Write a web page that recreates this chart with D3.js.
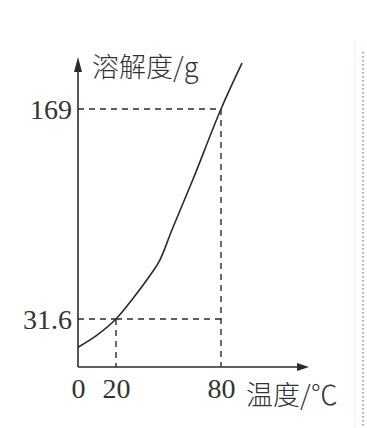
<!DOCTYPE html>
<html><head><meta charset="utf-8">
<script src="https://cdn.jsdelivr.net/npm/d3@7"></script>
<style>
html,body{margin:0;padding:0;background:#fff;}
svg{display:block;}
</style></head>
<body>
<script>
// Data (temperature °C, solubility g)
const temps = [0, 10, 20, 30, 40, 45, 52, 64, 80, 92];
const solubility = [13, 21, 31.6, 45.5, 61, 70, 90, 123, 169, 199];
const xTicks = [0, 20, 80];
const yTicks = [31.6, 169];
const yTickLabels = ["31.6", "169"];
const guideTemps = [20, 80];
const guideValues = [31.6, 169];
const xTitle = "温度/℃";
const yTitle = "溶解度/g";

const W = 367, H = 428;
const ink = "#2b2b2b";
const svg = d3.select("body").append("svg").attr("width", W).attr("height", H);

const x = d3.scaleLinear().domain([0, 20, 80]).range([78, 116, 221]);
const y = d3.scaleLinear().domain([0, 31.6, 169]).range([367, 319, 109]);

// faint page edge + red dotted margin line
svg.append("line").attr("x1", 355).attr("x2", 355).attr("y1", 40).attr("y2", H)
  .attr("stroke", "#f0f0f0").attr("stroke-width", 1);
svg.append("line").attr("x1", 363).attr("x2", 363).attr("y1", 52).attr("y2", H)
  .attr("stroke", "#c8507a").attr("stroke-width", 1.2).attr("stroke-dasharray", "1.5,2.5");

// guide dashed lines
const gd = svg.append("g").attr("stroke", ink).attr("stroke-width", 1.4).attr("stroke-dasharray", "6,5").attr("fill", "none");
guideTemps.forEach((t, i) => {
  const v = guideValues[i];
  gd.append("line").attr("x1", x(0)).attr("x2", x(80)).attr("y1", y(v)).attr("y2", y(v))
    .attr("x2", x(t));
  gd.append("line").attr("x1", x(t)).attr("x2", x(t)).attr("y1", y(v)).attr("y2", y(0));
});
// the 31.6 line extends to the 80 line
gd.append("line").attr("x1", x(20)).attr("x2", x(80)).attr("y1", y(31.6)).attr("y2", y(31.6));

// axes lines with arrows
const ax = svg.append("g");
ax.append("line").attr("x1", x(0)).attr("x2", x(0)).attr("y1", y(0)).attr("y2", 66)
  .attr("stroke", ink).attr("stroke-width", 1.6);
ax.append("line").attr("x1", x(0)).attr("x2", 300).attr("y1", y(0)).attr("y2", y(0))
  .attr("stroke", ink).attr("stroke-width", 1.6);
ax.append("path").attr("d", `M${x(0)},57 L${x(0)-4},72 L${x(0)+4},72 Z`).attr("fill", ink);
ax.append("path").attr("d", `M309,${y(0)} L297,${y(0)-4} L297,${y(0)+4} Z`).attr("fill", ink);

// curve
const data = temps.map((t, i) => [t, solubility[i]]);
svg.append("path").datum(data)
  .attr("d", d3.line().x(d => x(d[0])).y(d => y(d[1])).curve(d3.curveCatmullRom.alpha(0.5)))
  .attr("fill", "none").attr("stroke", ink).attr("stroke-width", 1.6);

// tick labels via d3 axes
const serif = "'Liberation Serif','Times New Roman',serif";
const xa = svg.append("g").attr("transform", `translate(0,${y(0)})`)
  .call(d3.axisBottom(x).tickValues(xTicks).tickSize(0).tickPadding(31).tickFormat(d3.format("d")));
xa.select(".domain").remove();
xa.selectAll("text").attr("font-family", serif).attr("font-size", 28).attr("fill", "#333").attr("dy", 0);

const ya = svg.append("g").attr("transform", `translate(${x(0)},0)`)
  .call(d3.axisLeft(y).tickValues(yTicks).tickSize(0).tickPadding(6).tickFormat((d, i) => yTickLabels[i]));
ya.select(".domain").remove();
ya.selectAll("text").attr("font-family", serif).attr("font-size", 28).attr("fill", "#333").attr("dy", "0.34em");

// titles
const cjk = "'Noto Sans CJK SC','Noto Sans',sans-serif";
svg.append("text").attr("x", 92).attr("y", 77).attr("font-family", cjk).attr("font-size", 27)
  .attr("font-weight", 300).attr("fill", "#333").text(yTitle);
svg.append("text").attr("x", 246).attr("y", 405).attr("font-family", cjk).attr("font-size", 27)
  .attr("font-weight", 300).attr("fill", "#333").text(xTitle);
</script>
</body></html>
